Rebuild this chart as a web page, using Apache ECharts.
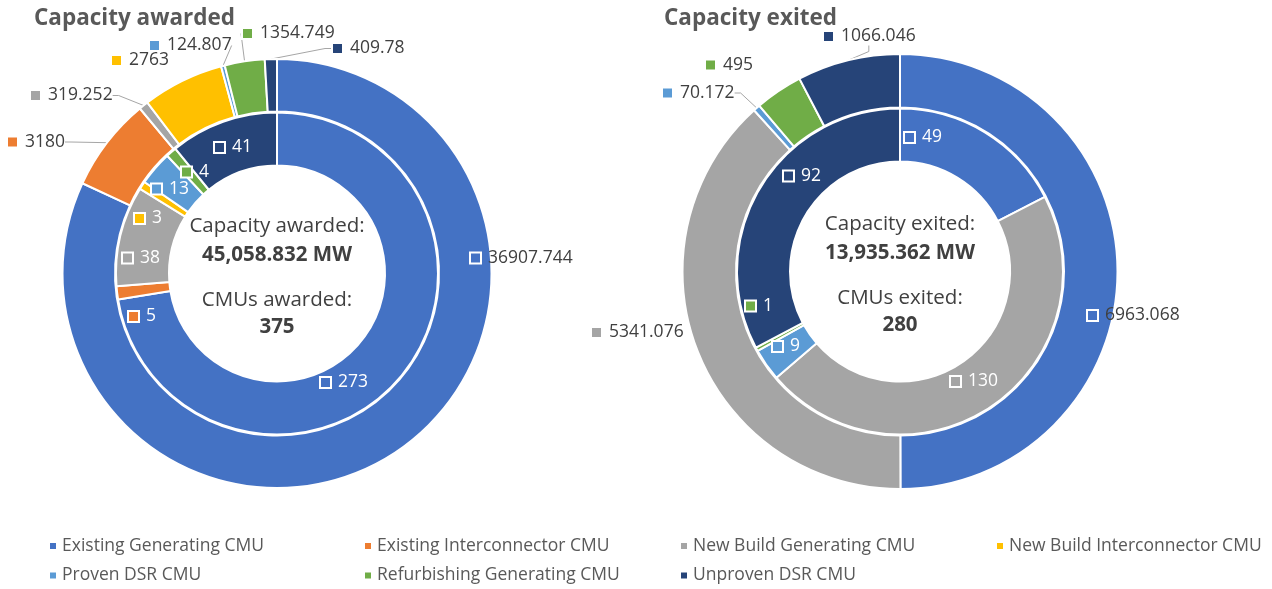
<!DOCTYPE html>
<html>
<head>
<meta charset="utf-8">
<title>Capacity awarded / exited</title>
<script src="https://cdn.jsdelivr.net/npm/echarts@6/dist/echarts.min.js"></script>
<style>
  html, body { margin: 0; padding: 0; background: #fff; }
  #chart { width: 1272px; height: 589px; }
</style>
</head>
<body>
<div id="chart"></div>
<script>
  // CMU types, same order as the legend
  var categories = ['Existing Generating CMU', 'Existing Interconnector CMU', 'New Build Generating CMU',
    'New Build Interconnector CMU', 'Proven DSR CMU', 'Refurbishing Generating CMU', 'Unproven DSR CMU'];
  var colors = ['#4472C4', '#ED7D31', '#A5A5A5', '#FFC000', '#5B9BD5', '#70AD47', '#264478'];

  // outer ring = capacity (MW), inner ring = number of CMUs
  var awardedCapacity = [36907.744, 3180, 319.252, 2763, 124.807, 1354.749, 409.78];
  var awardedCmus = [273, 5, 38, 3, 13, 4, 41];
  var exitedCapacity = [6963.068, 0, 5341.076, 0, 70.172, 495, 1066.046];
  var exitedCmus = [49, 0, 130, 0, 9, 1, 92];

  var awardedCentre = ['Capacity awarded:', '45,058.832 MW', 'CMUs awarded:', '375'];
  var exitedCentre = ['Capacity exited:', '13,935.362 MW', 'CMUs exited:', '280'];

  var font = '"Open Sans", "Noto Sans", sans-serif';
  var leftC = [277, 273.5];
  var rightC = [900, 271.5];

  // where excel put the data labels (offset of the marker from the ring centre)
  var spots = {
    awardedOuter: [[194, -15.5], [-269, -131.5], [-246, -178], [-165, -213], [-127, -228], [-34, -240], [56, -225]],
    awardedInner: [[44, 109], [-148, 43], [-154, -15.5], [-142, -55], [-125, -84.5], [-95, -101.5], [-62, -126]],
    exitedOuter: [[188, 44], null, [-308, 61], null, [-237, -178.5], [-194, -206.5], [-76, -235]],
    exitedInner: [[5, -134], null, [51, 110], null, [-127, 75], [-154, 34.5], [-116, -95.5]]
  };

  function ringData(values, lines) {
    return values.map(function (v, i) {
      return {
        name: categories[i], value: v, cat: i,
        itemStyle: { color: colors[i] },
        labelLine: { show: lines.indexOf(i) >= 0 }
      };
    }).filter(function (d) { return d.value > 0; });
  }

  function richFor(textColor) {
    var rich = { v: { fontSize: 17.5, fontFamily: font, color: textColor, padding: [0, 0, 0, 8] } };
    colors.forEach(function (c, i) {
      rich['m' + i] = { width: 9, height: 9, backgroundColor: c, borderColor: '#fff', borderWidth: 2 };
    });
    return rich;
  }

  function ring(values, lines, centre, radius, spotList, textColor, pos) {
    var data = ringData(values, lines);
    return {
      type: 'pie',
      center: centre,
      radius: radius,
      startAngle: 90,
      clockwise: true,
      avoidLabelOverlap: false,
      animation: false,
      data: data,
      itemStyle: { borderColor: '#fff', borderWidth: 2 },
      label: {
        show: true,
        position: pos,
        formatter: function (p) { return '{m' + p.data.cat + '|}{v|' + p.value + '}'; },
        rich: richFor(textColor)
      },
      labelLine: { length: 10, length2: 6, lineStyle: { color: '#A6A6A6', width: 1 } },
      labelLayout: function (p) {
        var s = spotList[data[p.dataIndex].cat];
        return { x: centre[0] + s[0], y: centre[1] + s[1], align: 'left', verticalAlign: 'middle' };
      },
      emphasis: { disabled: true }
    };
  }

  function centreText(centre, lines) {
    var ys = [-47.5, -18.5, 26.5, 53.5];
    return lines.map(function (t, i) {
      return {
        type: 'text',
        x: centre[0],
        y: centre[1] + ys[i],
        style: {
          text: t, align: 'center', verticalAlign: 'middle',
          fontSize: 20.5, fontFamily: font, fontWeight: i % 2 ? 'bold' : 'normal', fill: '#404040'
        }
      };
    });
  }

  var legendCols = [[0, 4], [1, 5], [2, 6], [3]];
  var legendLeft = [48, 363, 679, 995];

  var option = {
    backgroundColor: '#fff',
    title: [
      { text: 'Capacity awarded', left: 34, top: 7, padding: 0,
        textStyle: { fontFamily: font, fontSize: 22.5, fontWeight: 'bold', color: '#595959' } },
      { text: 'Capacity exited', left: 664, top: 7, padding: 0,
        textStyle: { fontFamily: font, fontSize: 22.5, fontWeight: 'bold', color: '#595959' } }
    ],
    legend: legendCols.map(function (col, k) {
      return {
        orient: 'vertical',
        left: legendLeft[k],
        top: 536,
        padding: 0,
        icon: 'rect',
        itemWidth: 8,
        itemHeight: 8,
        itemGap: 9.5,
        selectedMode: false,
        data: col.map(function (i) { return categories[i]; }),
        textStyle: { fontFamily: font, fontSize: 17.5, color: '#595959', lineHeight: 20 }
      };
    }),
    graphic: centreText(leftC, awardedCentre).concat(centreText(rightC, exitedCentre)),
    series: [
      ring(awardedCmus, [1], leftC, [108, 161], spots.awardedInner, '#fff', 'inside'),
      ring(awardedCapacity, [1, 2, 4, 5, 6], leftC, [162, 214.5], spots.awardedOuter, '#404040', 'outside'),
      ring(exitedCmus, [5], rightC, [110, 163], spots.exitedInner, '#fff', 'inside'),
      ring(exitedCapacity, [4, 6], rightC, [164, 217.5], spots.exitedOuter, '#404040', 'outside')
    ]
  };

  var chart = echarts.init(document.getElementById('chart'));
  chart.setOption(option);
</script>
</body>
</html>
